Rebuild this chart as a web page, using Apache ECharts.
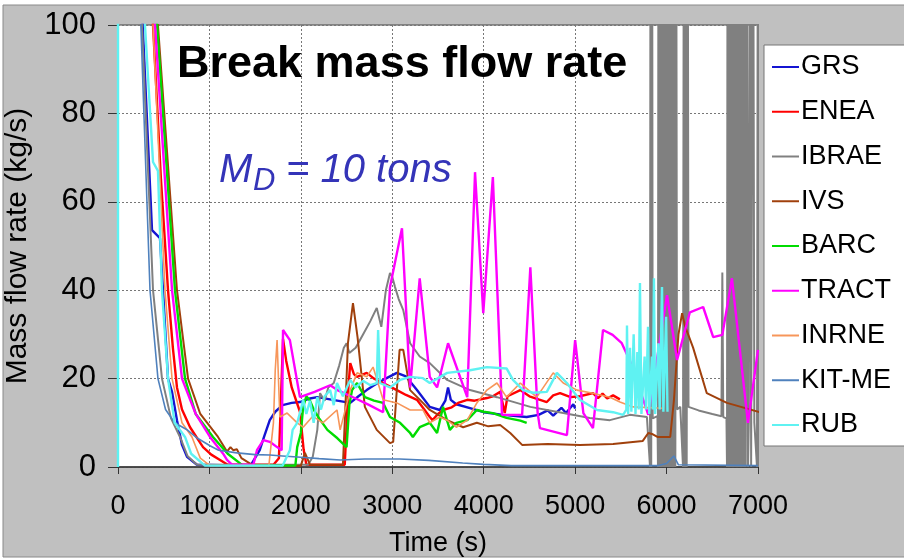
<!DOCTYPE html>
<html>
<head>
<meta charset="utf-8">
<script src="https://cdn.jsdelivr.net/npm/echarts@6.0.0/dist/echarts.min.js"></script>
<style>
  html, body { margin: 0; padding: 0; background: #fff; }
  #c_chart { width: 904px; height: 560px; }
</style>
</head>
<body>
<div id="c_chart"></div>
<script>
// time (s), mass flow rate (kg/s)
const seriesNames = ['GRS', 'ENEA', 'IBRAE', 'IVS', 'BARC', 'TRACT', 'INRNE', 'KIT-ME', 'RUB']
const seriesColors = ['#1414d2', '#ff0000', '#808080', '#a0400c', '#00dc00', '#ff00ff', '#f7965a', '#4f81bd', '#5ff2f2']
const xTicks = [0, 1000, 2000, 3000, 4000, 5000, 6000, 7000]
const yTicks = [0, 20, 40, 60, 80, 100]

const grs = [[0, 400], [270, 100], [372, 53.6], [459, 51.8], [492, 40], [547, 20], [591, 17], [645, 10.6], [700, 5], [755, 2.3], [864, 0.5], [1450, 0.3],
  [1550, 3.8], [1600, 7], [1660, 10.6], [1720, 12.5], [1800, 14], [1900, 14.5], [1990, 14.7], [2100, 15.5], [2180, 15.8], [2350, 15.2], [2540, 14.5],
  [2630, 16], [2720, 17.4], [2800, 18.5], [2900, 19.7], [3050, 21.3], [3150, 20.5], [3270, 17.4], [3410, 13.6], [3520, 12.9], [3580, 15], [3610, 18],
  [3640, 15.2], [3700, 14.2], [3850, 13.3], [4000, 12.4], [4210, 11.8], [4470, 11.3], [4600, 11.8], [4700, 12.8], [4760, 11.6], [4850, 13.4],
  [4900, 12.2], [4980, 14.2], [5000, 13.2]]
const enea = [[0, 400], [383, 100], [470, 65], [547, 40], [600, 27], [645, 18], [700, 13], [788, 9], [930, 4.5], [1020, 2.8], [1116, 1.6], [1200, 0.5],
  [1700, 0.5], [1760, 2], [1790, 20], [1805, 29], [1840, 24], [1900, 18], [1990, 12.5], [2030, 4], [2060, 0.5], [2480, 0.5], [2520, 18], [2540, 23.5],
  [2580, 21], [2615, 20.4], [2720, 21.3], [2800, 20], [2900, 19], [3050, 17.4], [3150, 16.3], [3270, 15.2], [3350, 13], [3410, 11.3], [3440, 10.6],
  [3500, 12], [3555, 12.9], [3650, 13.5], [3720, 14.5], [3820, 15.2], [3900, 15], [4035, 15.6], [4100, 16], [4180, 17], [4230, 12.2], [4260, 16],
  [4400, 17.4], [4500, 16], [4600, 15.3], [4690, 14.7], [4760, 16.2], [4835, 16.7], [4950, 15.8], [5050, 16], [5195, 16.7], [5250, 15.6],
  [5300, 16.6], [5350, 15.5], [5415, 16.2], [5490, 15.3]]
const ibrae = [[0, 400], [262, 100], [383, 40], [481, 20], [580, 11], [678, 6.8], [760, 2.5], [864, 0.5], [2080, 0.5], [2130, 2.3], [2180, 8.4],
  [2210, 16.7], [2260, 15], [2300, 18], [2360, 19], [2420, 23], [2470, 27], [2500, 28], [2530, 25.8], [2600, 27], [2680, 30], [2760, 33], [2830, 36],
  [2880, 31.7], [2930, 40], [2975, 43.9], [3000, 43], [3030, 40.7], [3070, 38], [3120, 35.5], [3195, 28], [3300, 25], [3410, 23.5], [3600, 19.7],
  [3850, 17.4], [4145, 15.8], [4510, 13.6], [4870, 12.2], [5160, 11.1], [5380, 10.6], [5600, 11.8], [5785, 11.3],
  [5819, 0], [5825, 160], [5832, 0], [5841, 160], [5848, 11], [5900, 11.5],
  [5906, 0], [5912, 160], [5920, 0], [5928, 160], [5936, 0], [5944, 160], [5952, 0], [5960, 160], [5968, 0], [5976, 160], [5984, 0],
  [5992, 160], [6000, 0], [6008, 160], [6016, 0], [6024, 160], [6032, 0], [6040, 160], [6048, 0], [6056, 160], [6064, 0], [6072, 160],
  [6080, 0], [6088, 160], [6096, 0], [6104, 160], [6114, 13], [6150, 13.6],
  [6180, 0], [6190, 160], [6200, 0], [6210, 160], [6220, 0], [6230, 160], [6240, 13.6], [6350, 12.8], [6500, 12], [6600, 11.5], [6610, 44],
  [6620, 11.3], [6655, 11],
  [6661, 0], [6668, 160], [6676, 0], [6684, 160], [6692, 0], [6700, 160], [6708, 0], [6716, 160], [6722, 12], [6727, 0], [6735, 160], [6743, 0],
  [6751, 160], [6759, 0], [6767, 160], [6775, 0], [6783, 160], [6791, 0], [6799, 160], [6807, 0], [6815, 160], [6825, 0], [6830, 11],
  [6836, 160], [6846, 0], [6856, 160], [6866, 0], [6876, 160], [6891, 0], [6900, 11], [6913, 160], [6925, 0], [6945, 160], [6960, 10],
  [6989, 0], [7000, 160], [7010, 0]]
const ivs = [[0, 400], [437, 100], [645, 40], [766, 20], [900, 12], [1094, 6.8], [1192, 3.5], [1230, 4.5], [1260, 3.8], [1300, 4], [1350, 2],
  [1480, 0.3], [2000, 0.3], [2045, 3.2], [2100, 0.5], [2460, 0.5], [2490, 15], [2515, 28], [2570, 37.1], [2620, 29.4], [2700, 13.6], [2830, 8.4],
  [2975, 5.4], [3010, 5.7], [3080, 26.5], [3120, 26.5], [3195, 17.4], [3335, 14.5], [3410, 12.9], [3600, 10.6], [3775, 9], [3925, 10], [4050, 9.2],
  [4180, 9.5], [4290, 7.7], [4420, 5], [4700, 5.2], [5050, 5], [5415, 5.2], [5740, 5.9], [5800, 7.7], [5850, 7.4], [5900, 6.8], [6040, 6.8],
  [6080, 15], [6130, 30], [6170, 34.8], [6200, 32], [6290, 27], [6440, 16.7], [6660, 14.5], [7020, 12.4]]
const barc = [[0, 400], [427, 100], [623, 40], [733, 20], [850, 12], [1039, 6.8], [1200, 3], [1367, 0.3], [1940, 0.3], [1960, 4.5], [2000, 7.7],
  [2025, 13.6], [2060, 16], [2100, 15], [2140, 13], [2200, 11], [2290, 8.4], [2400, 6.5], [2500, 4.5], [2530, 14], [2560, 17.4], [2615, 19],
  [2700, 15.8], [2800, 15], [2900, 14.5], [2975, 11.3], [3085, 10], [3195, 7.7], [3225, 6.8], [3300, 9], [3410, 10], [3490, 7.7], [3555, 13.6],
  [3630, 8.4], [3700, 10], [3820, 10.6], [3925, 12.9], [4000, 12.5], [4100, 12.2], [4250, 11.1], [4400, 10.5], [4470, 10]]
const tract = [[0, 400], [405, 100], [591, 40], [700, 20], [850, 12], [1006, 6.8], [1150, 3], [1192, 1.6], [1250, 0.5], [1480, 0.5], [1520, 3.8],
  [1590, 6.1], [1660, 5.7], [1740, 4.5], [1790, 3.8], [1805, 31], [1880, 28.7], [1990, 15.8], [2150, 17], [2320, 18.5], [2400, 17.4], [2600, 15.5],
  [2750, 14], [2900, 12.4], [2975, 40.7], [3106, 54], [3195, 18], [3300, 42.7], [3410, 20.4], [3490, 18], [3610, 28], [3820, 15.8], [3905, 66.7],
  [3995, 34.8], [4100, 65.6], [4180, 23.5], [4200, 11.8], [4420, 11.8], [4510, 45.2], [4590, 12.2], [4615, 8.8], [4910, 7.2], [5000, 28.7],
  [5090, 12.2], [5195, 8.8], [5305, 31], [5410, 29.9], [5510, 28], [5600, 24], [5700, 18], [5800, 11.8], [6005, 38.9], [6115, 24.2], [6255, 35],
  [6400, 36.2], [6510, 29.4], [6610, 29.9], [6715, 42.7], [6890, 10], [7000, 26.5]]
const inrne = [[0, 400], [383, 100], [514, 40], [591, 20], [700, 10], [809, 6.8], [900, 2], [1006, 0.3], [1650, 0.3], [1700, 10], [1720, 22],
  [1740, 28.7], [1770, 11.3], [1850, 12.2], [1960, 10], [2025, 9], [2130, 11.5], [2240, 10], [2395, 12.9], [2430, 8.4], [2540, 17.4], [2615, 21.3],
  [2720, 20.4], [2790, 22.6], [2900, 15.2], [3050, 14.5], [3195, 12.9], [3335, 12.9], [3410, 10], [3520, 11.3], [3600, 10.6], [3700, 9],
  [3820, 10.6], [3925, 14.5], [4035, 17.4], [4145, 19], [4250, 15.8], [4400, 19], [4580, 15.8], [4760, 21.3], [4870, 19], [5020, 17.4],
  [5195, 16.7], [5380, 15.8], [5490, 14.7], [5635, 13.6], [5960, 13.3]]
const kitme = [[0, 400], [250, 100], [350, 40], [437, 20], [520, 13], [620, 10], [750, 8.5], [870, 6.5], [1006, 4.8], [1100, 3.8], [1300, 3.2],
  [1500, 2.8], [1660, 2.7], [1800, 2.5], [2000, 2.2], [2200, 1.9], [2430, 1.6], [2700, 1.8], [3080, 1.8], [3400, 1.5], [3770, 0.9], [4000, 0.6],
  [4300, 0.3], [5900, 0.3], [6000, 0.8], [6080, 2.5], [6130, 0.5], [7000, 0.3]]
const rub = [[0, 0], [1, 400], [295, 100], [383, 69], [437, 67], [481, 40], [547, 20], [620, 10], [733, 6.8], [800, 3], [951, 0.3], [1800, 0.3],
  [1880, 3.8], [1910, 8.4], [1960, 10], [2000, 13], [2025, 15.2], [2060, 12], [2100, 15], [2140, 10], [2180, 15.8], [2220, 13], [2260, 16],
  [2320, 17.4], [2360, 14], [2395, 19], [2460, 16], [2540, 19.7], [2600, 18], [2680, 19.5], [2760, 18.5], [2830, 19], [2845, 31], [2865, 19],
  [2975, 18], [3085, 19.7], [3195, 20.4], [3335, 20.1], [3410, 19], [3600, 21.3], [3850, 21.9], [4035, 22.6], [4250, 22.3], [4320, 19.7],
  [4430, 17.4], [4540, 16.8], [4690, 17], [4800, 21.3], [4910, 19], [5050, 15.2], [5240, 12.9], [5415, 12.4], [5525, 11.8], [5560, 13],
  [5567, 32], [5580, 12], [5600, 27], [5615, 12.5], [5640, 30], [5660, 12], [5680, 26], [5695, 13], [5709, 41.6], [5725, 12], [5760, 25],
  [5775, 13], [5797, 31.7], [5810, 12], [5840, 25], [5850, 13], [5862, 42.7], [5875, 12], [5910, 28], [5925, 13], [5950, 40.7], [5965, 12.5],
  [5995, 34], [6010, 12.5]]

const seriesData = [grs, enea, ibrae, ivs, barc, tract, inrne, kitme, rub]
const seriesWidth = [2.4, 2.4, 2, 2, 2.4, 2.4, 1.6, 1.6, 2.4]

const font = '"Liberation Sans", Arial, sans-serif'
const chart = echarts.init(document.getElementById('c_chart'))
const option = {
  animation: false,
  backgroundColor: '#fff',
  textStyle: { fontFamily: font },
  grid: {
    left: 118,
    right: 146,
    top: 25,
    bottom: 93,
    outerBoundsMode: 'none',
    containLabel: false,
    show: true,
    backgroundColor: '#fff',
    borderColor: '#444',
    borderWidth: 1
  },
  legend: {
    orient: 'vertical',
    left: 764,
    top: 45,
    icon: 'rect',
    itemWidth: 27,
    itemHeight: 2,
    itemGap: 14.75,
    padding: [7, 30, 6, 8],
    backgroundColor: '#fff',
    borderColor: '#777',
    borderWidth: 1,
    data: seriesNames,
    textStyle: { fontSize: 27, color: '#000', padding: [0, 0, 0, -3], lineHeight: 30 }
  },
  xAxis: {
    type: 'value',
    min: xTicks[0],
    max: xTicks[xTicks.length - 1],
    interval: 1000,
    name: 'Time (s)',
    nameLocation: 'middle',
    nameGap: 63,
    nameTextStyle: { fontSize: 27, color: '#000' },
    axisLine: { lineStyle: { color: '#333', width: 1.5 } },
    axisTick: { length: 7, lineStyle: { color: '#333' } },
    axisLabel: { fontSize: 27, color: '#000', margin: 26, formatter: v => String(v) },
    splitLine: { show: true, lineStyle: { type: [2, 2], color: '#777' } }
  },
  yAxis: {
    type: 'value',
    min: yTicks[0],
    max: yTicks[yTicks.length - 1],
    interval: 20,
    name: 'Mass flow rate (kg/s)',
    nameLocation: 'middle',
    nameGap: 85,
    nameTextStyle: { fontSize: 30, color: '#000' },
    axisLine: { show: true, lineStyle: { color: '#333', width: 1.5 } },
    axisTick: { show: true, length: 10, lineStyle: { color: '#333' } },
    axisLabel: { fontSize: 31, color: '#000', margin: 22, formatter: v => String(v) },
    splitLine: { show: true, lineStyle: { type: [2, 2], color: '#777' } }
  },
  graphic: [
    {
      type: 'rect',
      z: -10,
      shape: { x: 3, y: 5, width: 903, height: 552 },
      style: { fill: '#c0c0c0', stroke: '#8a8a8a', lineWidth: 1 }
    },
    {
      type: 'text',
      z: 100,
      left: 177,
      top: 42,
      style: { text: 'Break mass flow rate', font: 'bold 45px ' + font, fill: '#000' }
    },
    {
      type: 'text',
      z: 100,
      left: 219,
      top: 151,
      style: { text: 'M', font: 'italic 40px ' + font, fill: '#3434b8' }
    },
    {
      type: 'text',
      z: 100,
      left: 253,
      top: 166,
      style: { text: 'D', font: 'italic 31px ' + font, fill: '#3434b8' }
    },
    {
      type: 'text',
      z: 100,
      left: 286,
      top: 151,
      style: { text: '= 10 tons', font: 'italic 40px ' + font, fill: '#3434b8' }
    }
  ],
  series: seriesNames.map((name, i) => ({
    name: name,
    type: 'line',
    symbol: 'none',
    data: seriesData[i],
    color: seriesColors[i],
    lineStyle: { width: seriesWidth[i], color: seriesColors[i] },
    clip: true
  }))
}
chart.setOption(option, true)
</script>
</body>
</html>
